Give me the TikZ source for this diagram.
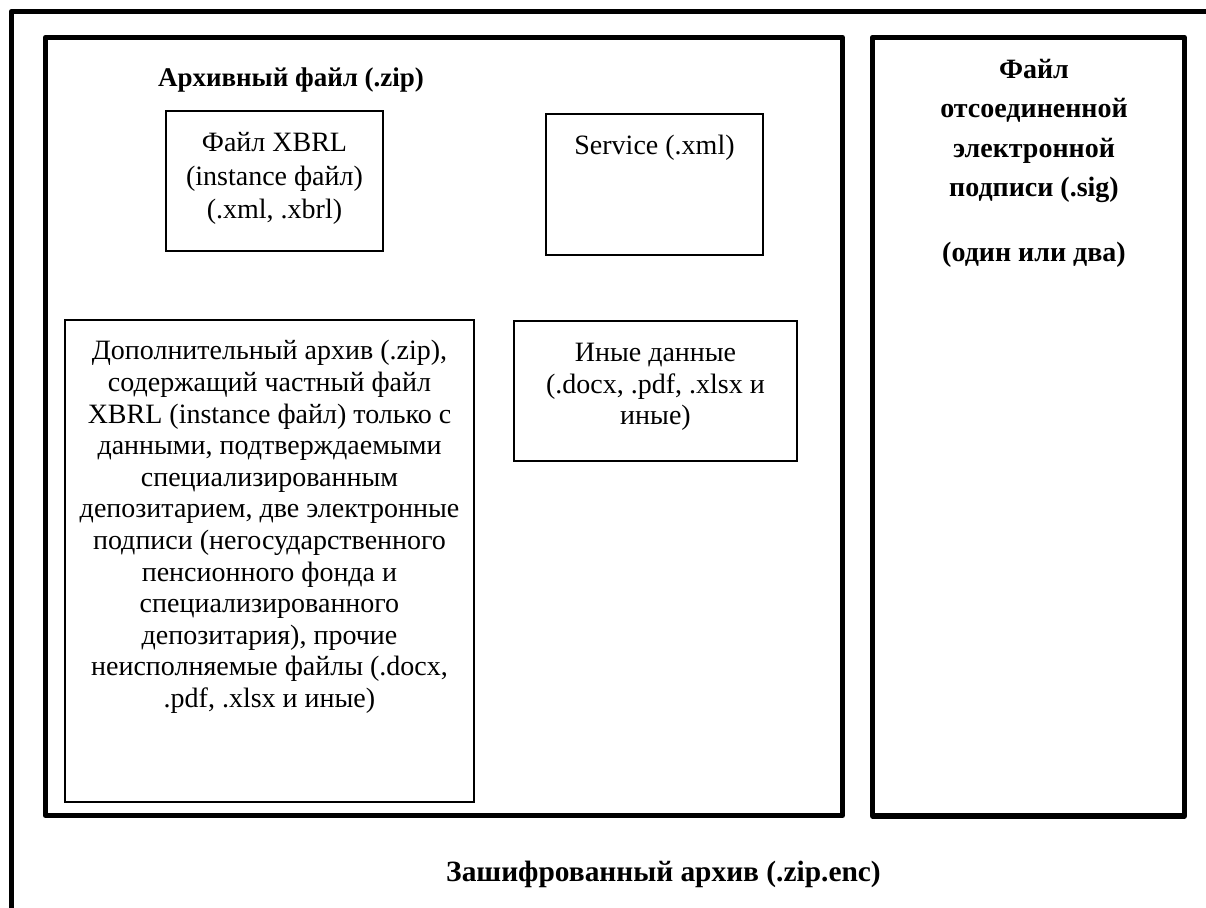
\documentclass[tikz,border=0pt]{standalone}
\usepackage{fontspec}
\setmainfont{Liberation Serif}
\newcommand{\bodyfont}{\fontsize{14pt}{16.5pt}\selectfont}

\begin{document}
\begin{tikzpicture}[x=0.5pt,y=-0.5pt,
   frame/.style={line width=2.6pt,line join=round},
   thinbox/.style={line width=0.6pt},
   txt/.style={font=\bodyfont,align=center,inner sep=0pt,anchor=north},
   ttl/.style={font=\bodyfont\bfseries,align=center,inner sep=0pt}]
   \useasboundingbox (0,0) rectangle (1206,908);
   % outer encrypted archive, cut by the page on the right and bottom
   \draw[frame] (11.5,908) -- (11.5,11.5) -- (1206,11.5);
   % archive and signature
   \draw[frame] (45.5,37.5) rectangle (842.5,815.5);
   \draw[frame] (872.5,37.5) rectangle (1184.5,816);
   % files inside the archive
   \draw[thinbox] (166,111) rectangle (383,251);
   \draw[thinbox] (546,114) rectangle (763,255);
   \draw[thinbox] (65,320) rectangle (474,802);
   \draw[thinbox] (514,321) rectangle (797,461);
   \node[ttl,anchor=base,font=\fontsize{13.5pt}{16pt}\selectfont\bfseries] (zipttl) at (291,87) {Архивный файл (.zip)};
   \node[txt,font=\fontsize{14pt}{16.8pt}\selectfont] (xbrl) at (274.5,132)
      {Файл XBRL\\(instance файл)\\(.xml, .xbrl)};
   \node[txt] (service) at (654.5,135) {Service (.xml)};
   \node[txt,font=\fontsize{14pt}{15.8pt}\selectfont] (addzip) at (269.5,340)
      {Дополнительный архив (.zip),\\содержащий частный файл\\XBRL (instance файл) только с\\данными, подтверждаемыми\\специализированным\\депозитарием, две электронные\\подписи (негосударственного\\пенсионного фонда и\\специализированного\\депозитария), прочие\\неисполняемые файлы (.docx,\\.pdf, .xlsx и иные)};
   \node[txt,font=\fontsize{14pt}{15.8pt}\selectfont] (other) at (655.5,343)
      {Иные данные\\(.docx, .pdf, .xlsx и\\иные)};
   \node[ttl,anchor=north,font=\fontsize{14pt}{19.65pt}\selectfont\bfseries] (sig) at (1034,59)
      {Файл\\отсоединенной\\электронной\\подписи (.sig)\\[12.7pt](один или два)};
   \node[ttl,anchor=base,font=\fontsize{14.7pt}{17pt}\selectfont\bfseries] (encttl) at (663.5,882) {Зашифрованный архив (.zip.enc)};
\end{tikzpicture}
\end{document}
